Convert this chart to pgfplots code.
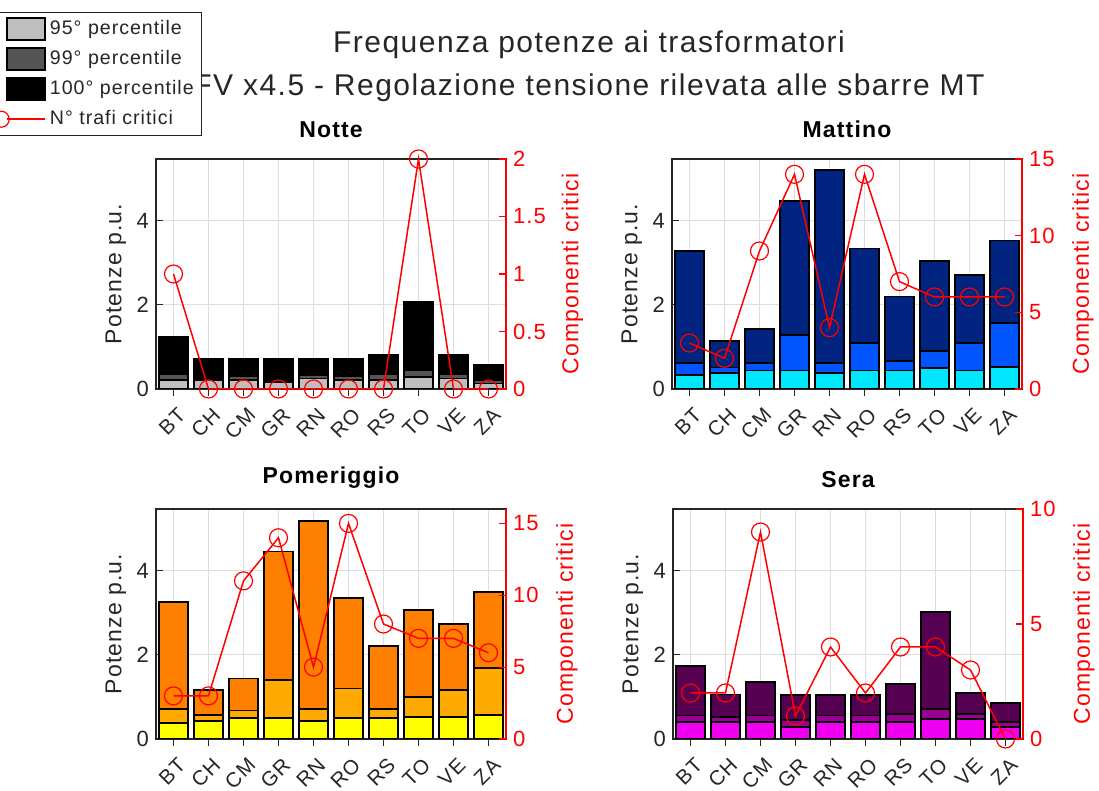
\documentclass[border=0pt]{standalone}
\usepackage{pgfplots}
\pgfplotsset{compat=1.18}
\usepackage{pgfplotstable}
\usepackage{fontspec}
\setmainfont{Liberation Sans}[LetterSpace=5]

\definecolor{g95}{RGB}{191,191,191}
\definecolor{g99}{RGB}{85,85,85}
\definecolor{g100}{RGB}{0,0,0}
\definecolor{b95}{RGB}{0,230,255}
\definecolor{b99}{RGB}{0,85,255}
\definecolor{b100}{RGB}{0,36,128}
\definecolor{o95}{RGB}{255,255,0}
\definecolor{o99}{RGB}{255,170,0}
\definecolor{o100}{RGB}{255,128,0}
\definecolor{p95}{RGB}{240,0,240}
\definecolor{p99}{RGB}{153,0,145}
\definecolor{p100}{RGB}{85,0,80}
\definecolor{txt}{RGB}{38,38,38}

\pgfplotstableread{
x p95 p99 p100 n
1 0.21 0.35 1.25 1
2 0.21 0.23 0.72 0
3 0.21 0.30 0.72 0
4 0.16 0.20 0.72 0
5 0.25 0.33 0.72 0
6 0.21 0.30 0.72 0
7 0.21 0.35 0.82 0
8 0.29 0.45 2.06 2
9 0.25 0.35 0.82 0
10 0.13 0.20 0.58 0
}\notte

\pgfplotstableread{
x p95 p99 p100 n
1 0.33 0.62 3.29 3
2 0.38 0.51 1.15 2
3 0.44 0.62 1.43 9
4 0.44 1.29 4.48 14
5 0.38 0.62 5.20 4
6 0.44 1.09 3.34 14
7 0.44 0.67 2.20 7
8 0.49 0.91 3.05 6
9 0.44 1.09 2.72 6
10 0.52 1.57 3.53 6
}\mattino

\pgfplotstableread{
x p95 p99 p100 n
1 0.38 0.72 3.26 3
2 0.42 0.58 1.16 3
3 0.49 0.68 1.44 11
4 0.49 1.40 4.46 14
5 0.42 0.72 5.18 5
6 0.49 1.20 3.35 15
7 0.49 0.72 2.21 8
8 0.53 1.00 3.06 7
9 0.53 1.16 2.73 7
10 0.58 1.68 3.50 6
}\pomeriggio

\pgfplotstableread{
x p95 p99 p100 n
1 0.41 0.56 1.73 2
2 0.41 0.53 1.06 2
3 0.41 0.56 1.36 9
4 0.29 0.46 1.05 1
5 0.41 0.56 1.05 4
6 0.41 0.56 1.05 2
7 0.41 0.60 1.30 4
8 0.48 0.72 3.02 4
9 0.48 0.60 1.10 3
10 0.29 0.41 0.86 0
}\sera

\pgfplotsset{
  leftax/.style={
    scale only axis, width=175pt, height=115pt,
    xmin=0.5, xmax=10.5, ymin=0, ymax=5.47,
    xtick={1,...,10}, xticklabels={BT,CH,CM,GR,RN,RO,RS,TO,VE,ZA},
    ytick={0,2,4},
    grid=major, grid style={draw=black!13, line width=0.5pt},
    tick align=inside, tick pos=left, major tick length=3.5pt,
    axis line style={txt, line width=0.6pt},
    tick style={txt, line width=0.6pt},
    ylabel={Potenze p.u.},
    every axis y label/.style={at={(axis description cs:-0.115,0.5)}, rotate=90, anchor=center,
      font=\fontsize{11.5}{12}\selectfont, text=txt},
    yticklabel style={font=\fontsize{11}{12}\selectfont, text=txt},
    xticklabel style={font=\fontsize{10.3}{11}\selectfont, text=txt, rotate=45, anchor=east, inner sep=0pt, yshift=-8.5pt, xshift=-2.5pt},
    /pgf/number format/assume math mode=true,
    ybar, bar width=0.85, bar shift=0pt,
    title style={font=\bfseries\fontsize{11.5}{12}\selectfont, text=black, yshift=1pt},
  },
  rightax/.style={
    scale only axis, width=175pt, height=115pt,
    xmin=0.5, xmax=10.5, ymin=0,
    axis x line=none, axis y line*=right,
    tick align=inside, major tick length=3.5pt,
    axis line style={red, line width=0.6pt},
    tick style={red, line width=0.6pt},
    yticklabel style={font=\fontsize{11}{12}\selectfont, text=red},
    ylabel={Componenti critici},
    every axis y label/.style={at={(axis description cs:#1,0.5)}, rotate=90, anchor=center,
      font=\fontsize{11.5}{12}\selectfont, text=red},
    /pgf/number format/assume math mode=true,
    clip=false,
  },
  redline/.style={red, line width=0.75pt, mark=o, mark size=4.5pt, mark options={solid, line width=0.6pt}},
  barstyle/.style={fill=#1, draw=black, line width=0.9pt, forget plot},
}

\begin{document}
\begin{tikzpicture}
\useasboundingbox (0,0) rectangle (549.5pt,395.5pt);

\node[align=center, font=\fontsize{15}{21.5}\selectfont, text=txt] at (294.5pt,362.5pt)
  {Frequenza potenze ai trasformatori\\FV x4.5 - Regolazione tensione rilevata alle sbarre MT};

% ---------------- Notte ----------------
\begin{axis}[leftax, at={(78pt,201pt)}, anchor=south west, title={Notte},
  legend style={at={(axis description cs:-0.48,1.639)}, anchor=north west,
    draw=txt, line width=0.6pt, fill=white, font=\fontsize{9.8}{10}\selectfont,
    row sep=2.4pt, inner xsep=2pt, inner ysep=2pt, text=txt},
  legend cell align=left]
\addplot[barstyle=g100] table[x=x,y=p100]{\notte};
\addplot[barstyle=g99] table[x=x,y=p99]{\notte};
\addplot[barstyle=g95] table[x=x,y=p95]{\notte};
\addlegendimage{legend image code/.code={\draw[fill=g95, draw=black, line width=0.8pt] (0pt,-5.5pt) rectangle (19pt,5.5pt);}}
\addlegendentry{95° percentile}
\addlegendimage{legend image code/.code={\draw[fill=g99, draw=black, line width=0.8pt] (0pt,-5.5pt) rectangle (19pt,5.5pt);}}
\addlegendentry{99° percentile}
\addlegendimage{legend image code/.code={\draw[fill=g100, draw=black, line width=0.8pt] (0pt,-5.5pt) rectangle (19pt,5.5pt);}}
\addlegendentry{100° percentile}
\addlegendimage{legend image code/.code={\draw[red, line width=0.75pt] (0pt,0pt) -- (19pt,0pt); \draw[red, line width=0.6pt] (-3pt,0pt) circle (4pt);}}
\addlegendentry{N° trafi critici}
\end{axis}
\begin{axis}[rightax=1.19, at={(78pt,201pt)}, anchor=south west, ymax=2, ytick={0,0.5,1,1.5,2}]
\addplot[redline] table[x=x,y=n]{\notte};
\end{axis}

% ---------------- Mattino ----------------
\begin{axis}[leftax, at={(336pt,201pt)}, anchor=south west, title={Mattino}]
\addplot[barstyle=b100] table[x=x,y=p100]{\mattino};
\addplot[barstyle=b99] table[x=x,y=p99]{\mattino};
\addplot[barstyle=b95] table[x=x,y=p95]{\mattino};
\end{axis}
\begin{axis}[rightax=1.174, at={(336pt,201pt)}, anchor=south west, ymax=15, ytick={0,5,10,15}]
\addplot[redline] table[x=x,y=n]{\mattino};
\end{axis}

% ---------------- Pomeriggio ----------------
\begin{axis}[leftax, at={(78pt,26pt)}, anchor=south west, title={Pomeriggio}]
\addplot[barstyle=o100] table[x=x,y=p100]{\pomeriggio};
\addplot[barstyle=o99] table[x=x,y=p99]{\pomeriggio};
\addplot[barstyle=o95] table[x=x,y=p95]{\pomeriggio};
\end{axis}
\begin{axis}[rightax=1.174, at={(78pt,26pt)}, anchor=south west, ymax=16, ytick={0,5,10,15}]
\addplot[redline] table[x=x,y=n]{\pomeriggio};
\end{axis}

% ---------------- Sera ----------------
\begin{axis}[leftax, at={(336.5pt,26pt)}, anchor=south west, title={Sera}]
\addplot[barstyle=p100] table[x=x,y=p100]{\sera};
\addplot[barstyle=p99] table[x=x,y=p99]{\sera};
\addplot[barstyle=p95] table[x=x,y=p95]{\sera};
\end{axis}
\begin{axis}[rightax=1.174, at={(336.5pt,26pt)}, anchor=south west, ymax=10, ytick={0,5,10}]
\addplot[redline] table[x=x,y=n]{\sera};
\end{axis}
\end{tikzpicture}
\end{document}
